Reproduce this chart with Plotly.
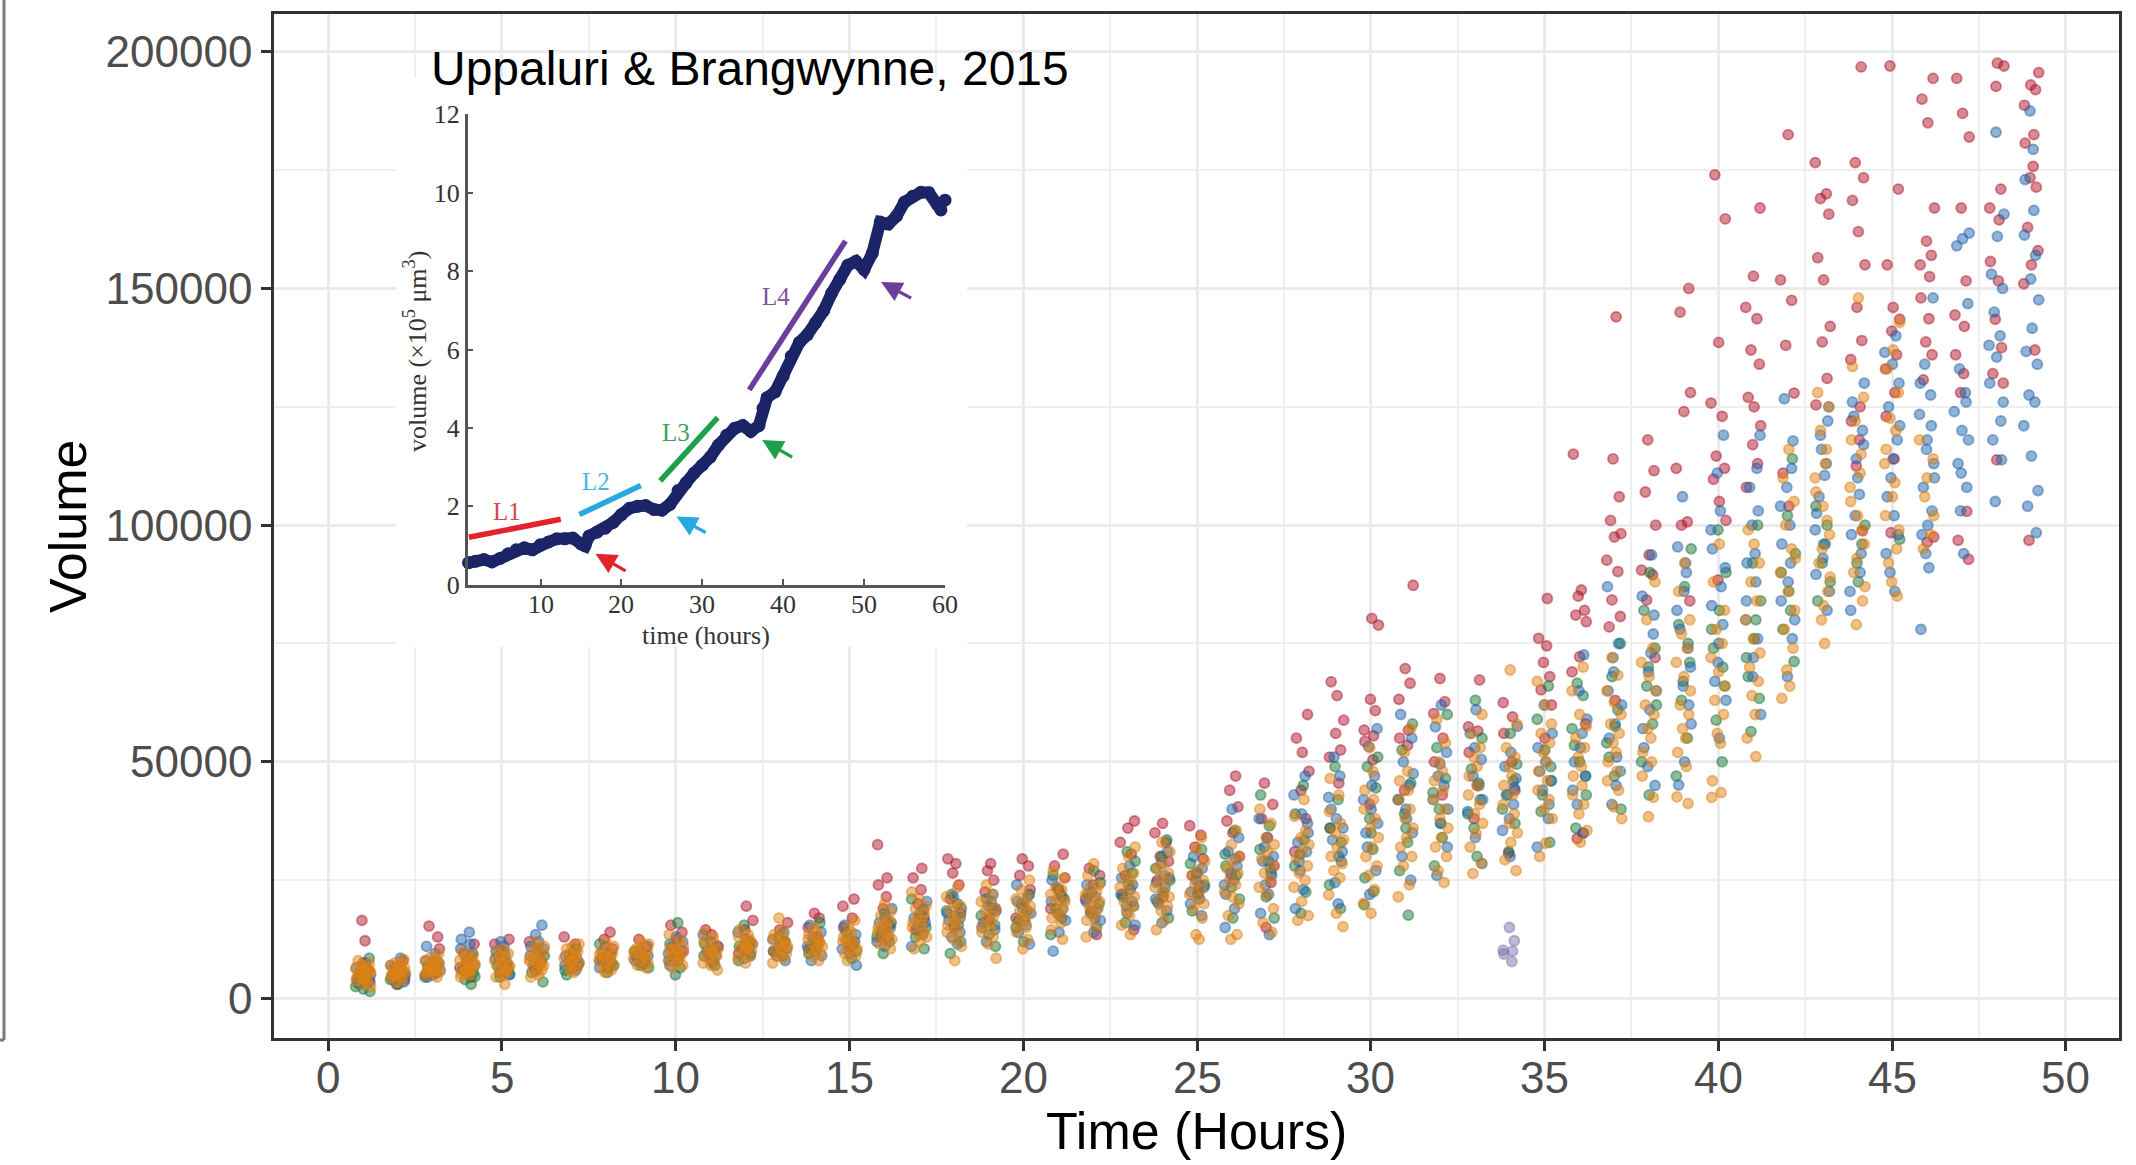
import plotly.graph_objects as go

# ---------------- data (main scatter, volumes in thousands) ----------------
RED = {
 1: [12.2, 16.5, 6.0, 4.5, 3.5, 7.5], 2: [3.0, 8.0, 6.5, 4.0], 3: [13.0, 15.3, 10.5, 7.0, 5.0],
 4: [9.5, 11.5, 8.0, 6.5, 4.5], 5: [12.5, 10.0, 11.5, 7.0, 5.5], 6: [10.5, 12.0, 8.0, 6.0],
 7: [13.0, 11.5, 9.0, 7.0], 8: [14.0, 12.5, 10.5, 8.5, 6.5], 9: [12.5, 11.0, 9.0, 7.5],
 10: [14.0, 15.5, 12.5, 10.0, 8.0], 11: [14.5, 13.5, 11.0, 9.0], 12: [19.5, 16.5, 14.5, 12.0, 9.5],
 13: [16.0, 14.5, 12.0, 10.0], 14: [18.0, 17.0, 15.0, 13.0, 10.5], 15: [21.0, 19.5, 17.0, 15.0, 11.0],
 16: [32.5, 25.5, 24.0, 21.5, 19.0, 15.5, 13.0], 17: [27.5, 25.5, 23.0, 20.0, 17.0, 14.5],
 18: [29.5, 28.5, 26.5, 24.0, 21.0, 18.0, 15.0], 19: [28.5, 27.0, 25.0, 22.5, 19.0, 16.5],
 20: [29.5, 28.0, 26.0, 23.0, 20.0, 17.0], 21: [30.5, 28.0, 25.5, 23.0, 19.0, 21.5],
 22: [27.5, 26.0, 24.0, 21.0, 13.5, 18.5], 23: [37.5, 36.0, 33.0, 30.5, 26.0, 14.5, 22.0],
 24: [37.0, 35.0, 33.0, 30.0, 29.0, 25.0, 21.5], 25: [36.5, 34.5, 32.0, 29.5, 26.0, 22.5],
 26: [47.0, 44.0, 40.5, 37.5, 35.0, 30.0, 26.0], 27: [45.5, 41.0, 38.0, 34.0, 28.0, 15.0, 24.5],
 28: [60.0, 55.0, 52.0, 48.0, 44.0, 38.0, 31.0], 29: [66.9, 64.0, 58.8, 56.0, 52.5, 51.0, 45.5, 36.0],
 30: [80.3, 78.9, 63.2, 60.8, 56.7, 55.5, 54.3, 50.4, 41.0],
 31: [87.3, 69.7, 66.6, 63.2, 56.7, 55.0, 53.5, 44.0],
 32: [67.6, 62.7, 60.2, 55.0, 50.0, 43.0], 33: [67.3, 57.4, 56.5, 52.0, 45.0, 38.0],
 34: [62.5, 59.5, 56.0, 50.0, 30.7, 44.0], 35: [84.5, 76.1, 74.5, 71.0, 68.0, 65.2, 62.0, 55.0],
 36: [115.0, 86.3, 85.0, 82.0, 81.0, 79.6, 72.2, 69.0, 34.9, 33.8, 58.0],
 37: [144.0, 114.0, 106.0, 101.0, 98.2, 97.5, 92.6, 90.2, 84.2, 80.7, 78.5, 63.0],
 38: [118.0, 111.5, 107.0, 100.0, 93.7, 90.5, 89.5, 84.2, 72.0],
 39: [150.0, 145.0, 128.0, 124.0, 112.0, 100.7, 100.0, 84.0],
 40: [174.0, 164.7, 138.6, 125.8, 123.0, 114.6, 112.0, 109.7, 105.0, 101.0, 88.4],
 41: [167.0, 152.6, 146.0, 143.6, 137.0, 134.0, 127.0, 125.0, 121.0, 117.0, 113.0, 108.0],
 42: [182.5, 151.8, 147.5, 138.0, 127.9, 111.0, 104.0],
 43: [176.6, 170.0, 169.0, 165.7, 156.5, 151.8, 142.0, 138.7, 131.0, 125.4],
 44: [196.8, 176.6, 173.4, 168.6, 162.0, 155.0, 146.0, 139.0, 135.0, 125.0, 122.0, 118.0, 112.5, 98.8],
 45: [197.0, 171.0, 155.0, 146.0, 143.5, 141.0, 136.0, 133.0, 128.0, 123.0, 114.0, 98.4],
 46: [194.4, 190.0, 185.0, 167.0, 160.0, 157.0, 155.0, 152.5, 148.0, 143.6, 138.7, 136.0, 130.7, 97.5, 96.4],
 47: [194.4, 187.0, 182.0, 167.0, 151.6, 144.4, 142.0, 136.0, 132.0, 128.0, 102.9, 96.8, 92.8],
 48: [197.6, 197.0, 192.7, 171.0, 167.0, 164.5, 155.7, 151.6, 143.5, 137.5, 132.0, 130.0, 113.8],
 49: [195.6, 193.0, 192.0, 188.7, 182.5, 180.7, 175.8, 173.4, 171.4, 162.9, 158.0, 155.0, 151.0, 137.0, 96.8],
}
BLUE = {
 1: [3.0, 3.8, 4.0, 4.5, 5.0, 5.5, 6.0, 6.5, 7.5, 4.2, 5.2], 2: [3.5, 4.0, 4.5, 5.0, 5.5, 6.0, 7.0, 8.5, 4.8, 6.5],
 3: [4.5, 5.0, 6.0, 6.5, 7.0, 8.0, 9.5, 11.0, 5.5, 7.5], 4: [5.5, 7.0, 8.0, 9.0, 10.5, 11.5, 12.5, 14.0, 6.5, 9.5],
 5: [5.0, 6.0, 7.0, 8.5, 9.5, 10.0, 11.0, 12.0, 7.5, 9.0], 6: [6.0, 8.0, 9.0, 10.0, 11.0, 12.0, 13.5, 15.5, 7.0, 10.5],
 7: [6.0, 7.0, 8.0, 9.0, 10.0, 7.5, 8.5], 8: [6.5, 7.0, 8.0, 9.0, 11.0, 7.5, 10.0],
 9: [7.5, 8.0, 9.5, 10.0, 11.0, 8.5, 9.0], 10: [7.0, 8.0, 9.0, 10.0, 11.0, 12.0, 13.0, 9.5],
 11: [7.5, 8.5, 9.0, 10.0, 11.0, 12.0, 13.5, 10.5], 12: [8.5, 9.5, 10.5, 11.5, 12.5, 14.0, 11.0],
 13: [8.0, 9.0, 10.5, 11.5, 12.5, 14.0, 10.0], 14: [8.0, 9.0, 10.0, 11.0, 12.0, 13.0, 14.0, 15.5, 12.5],
 15: [7.0, 9.5, 10.5, 11.5, 12.5, 13.5, 15.5, 11.0], 16: [11.0, 12.0, 13.0, 14.0, 15.0, 16.0, 17.0, 19.0, 14.5],
 17: [11.0, 13.5, 15.0, 16.0, 17.0, 18.0, 20.5, 14.5, 19.0], 18: [11.5, 13.0, 14.0, 16.5, 17.5, 19.0, 21.5, 15.5, 18.0],
 19: [12.0, 14.5, 16.0, 17.0, 18.5, 19.5, 22.0, 15.0, 20.5], 20: [11.5, 14.0, 16.5, 18.0, 19.0, 21.5, 24.0, 15.5, 20.5],
 21: [10.0, 14.0, 16.5, 18.0, 19.0, 20.5, 22.0, 25.0, 17.5, 23.5],
 22: [14.0, 16.5, 18.0, 19.0, 20.5, 21.5, 24.0, 17.0, 22.5],
 23: [15.5, 18.0, 20.5, 22.0, 23.0, 25.5, 28.0, 19.5, 24.0],
 24: [16.0, 18.5, 21.0, 23.5, 24.5, 26.0, 28.5, 31.0, 20.0, 25.5],
 25: [17.5, 20.0, 21.0, 22.5, 24.0, 25.0, 27.5, 30.0, 23.5, 26.5],
 26: [15.0, 19.0, 22.0, 25.0, 26.5, 28.0, 31.0, 34.0, 40.0, 24.0, 29.5],
 27: [13.5, 18.0, 22.0, 24.0, 26.0, 29.0, 30.0, 34.0, 38.0, 27.5, 32.0],
 28: [19.0, 23.0, 27.0, 31.0, 33.0, 35.0, 39.0, 43.0, 47.0, 29.0, 37.0],
 29: [20.0, 24.5, 29.0, 33.5, 36.0, 38.0, 42.5, 47.0, 51.0, 31.0, 40.0],
 30: [22.0, 27.0, 32.0, 37.0, 40.0, 42.0, 47.0, 53.2, 57.0, 35.0, 45.0],
 31: [25.0, 30.0, 35.0, 40.0, 42.0, 45.0, 50.0, 55.0, 60.0, 38.0, 47.5],
 32: [26.0, 32.0, 37.0, 42.0, 45.0, 47.0, 52.0, 57.4, 62.0, 40.0, 49.5],
 33: [28.5, 34.0, 39.5, 45.0, 47.0, 50.5, 56.0, 61.0, 42.0, 53.0],
 34: [30.0, 35.5, 41.0, 43.0, 46.5, 49.0, 52.0, 57.5, 38.0, 44.5],
 35: [32.0, 38.0, 44.0, 46.0, 48.0, 50.0, 56.0, 62.0, 41.0, 53.0],
 36: [35.0, 41.0, 47.0, 50.0, 53.0, 59.0, 65.0, 72.6, 44.0, 56.0],
 37: [41.0, 48.0, 55.0, 58.0, 62.0, 69.0, 75.0, 87.0, 51.0, 65.0, 45.0, 72.0],
 38: [45.0, 53.0, 61.0, 65.0, 69.0, 77.0, 85.0, 93.7, 57.0, 73.0, 49.0, 81.0],
 39: [45.1, 50.0, 58.0, 66.0, 74.0, 82.0, 90.0, 95.4, 92.0, 106.0, 62.0, 78.0, 70.0, 86.0],
 40: [55.0, 63.0, 71.0, 79.0, 83.0, 87.0, 95.0, 103.0, 111.0, 119.0, 67.0, 91.0, 75.0, 99.0],
 41: [60.0, 68.0, 76.0, 84.0, 88.0, 92.0, 94.0, 100.0, 103.0, 108.0, 119.0, 72.0, 80.0, 112.0],
 42: [68.0, 76.0, 84.0, 92.0, 96.0, 100.0, 108.0, 117.8, 126.7, 80.0, 88.0, 104.0, 112.0],
 43: [82.0, 89.6, 96.0, 102.5, 110.5, 116.0, 122.0, 106.0, 86.0, 93.0, 99.0, 113.0, 119.0, 125.0],
 44: [82.0, 90.0, 98.0, 106.5, 114.0, 120.0, 123.0, 130.0, 110.0, 86.0, 94.0, 102.0, 117.0, 126.0],
 45: [86.0, 94.0, 102.0, 110.0, 118.0, 125.0, 130.0, 134.0, 136.5, 140.0, 90.0, 98.0, 106.0, 114.0, 121.0],
 46: [78.0, 91.0, 94.0, 103.0, 108.0, 113.0, 118.0, 123.4, 127.5, 134.0, 148.0, 98.0, 100.0, 110.0,
      116.0, 121.0, 130.0],
 47: [94.0, 103.0, 108.0, 113.0, 118.0, 120.0, 124.0, 128.0, 133.0, 146.8, 159.0, 160.5, 161.7, 111.0, 126.0],
 48: [105.0, 113.8, 118.0, 126.0, 135.5, 138.0, 140.0, 145.0, 150.0, 153.0, 161.0, 165.7, 183.0, 122.0, 130.0],
 49: [98.4, 104.0, 107.3, 114.6, 121.0, 126.0, 127.5, 134.0, 136.7, 141.6, 147.6, 152.0, 157.0,
      161.3, 166.5, 173.0, 179.4, 187.5],
}
GREEN = {
 1: [1.5, 2.0, 2.5, 4.0, 6.0, 8.5, 3.2], 2: [3.0, 4.0, 5.5, 6.5, 4.8], 3: [4.5, 5.5, 6.0, 7.5, 6.8],
 4: [3.0, 4.0, 5.5, 6.0, 7.5, 4.6], 5: [4.5, 6.0, 7.0, 8.0, 5.2], 6: [3.5, 5.5, 7.0, 9.0, 6.2],
 7: [5.0, 6.5, 7.5, 8.5, 10.5, 6.0], 8: [5.5, 7.0, 8.0, 9.5, 11.5, 6.5], 9: [6.5, 7.0, 8.0, 10.0, 9.0],
 10: [5.0, 6.5, 8.0, 9.0, 11.5, 16.0, 10.0], 11: [7.0, 9.0, 10.0, 11.5, 8.0],
 12: [8.0, 10.0, 11.0, 12.0, 15.5, 9.0], 13: [9.0, 10.0, 11.0, 13.0, 12.0], 14: [9.5, 11.0, 12.5, 16.0, 10.5],
 15: [8.5, 11.0, 12.0, 14.0, 10.0], 16: [9.5, 12.0, 14.0, 16.0, 18.0, 13.0],
 17: [10.5, 13.0, 15.0, 17.0, 21.0, 18.5], 18: [9.5, 12.0, 15.5, 18.5, 20.0, 22.0, 17.0],
 19: [11.0, 13.5, 17.5, 19.0, 21.0, 15.5], 20: [12.0, 15.0, 18.5, 20.0, 22.0, 16.5],
 21: [13.5, 17.0, 19.0, 21.0, 26.0, 23.0], 22: [15.0, 18.0, 20.0, 22.0, 27.0, 24.5],
 23: [16.0, 19.5, 21.5, 24.0, 29.0, 31.0, 26.5], 24: [17.0, 20.5, 22.5, 25.0, 30.0, 33.5, 27.5],
 25: [18.5, 22.0, 24.0, 26.5, 31.5, 28.5], 26: [17.0, 21.0, 23.5, 26.0, 30.5, 35.5, 28.0],
 27: [17.0, 21.5, 26.5, 31.5, 36.5, 43.0, 29.0], 28: [18.0, 22.5, 28.0, 33.5, 39.0, 45.0, 30.5],
 29: [19.0, 24.0, 30.0, 36.0, 42.0, 49.0, 33.0], 30: [19.8, 22.6, 25.5, 31.5, 38.0, 44.5, 49.0, 51.0, 35.0],
 31: [17.6, 27.0, 33.0, 39.0, 45.5, 52.5, 58.0, 36.0, 42.0], 32: [28.0, 34.0, 40.0, 46.5, 53.0, 60.0, 37.0, 43.5],
 33: [30.0, 36.0, 42.0, 48.5, 55.0, 63.0, 39.0, 45.5], 34: [31.0, 37.0, 43.0, 49.5, 56.0, 40.0, 46.0],
 35: [33.0, 39.5, 46.0, 52.5, 59.0, 66.0, 43.0, 49.0], 36: [36.0, 43.0, 50.0, 57.0, 64.0, 66.6, 47.0, 53.5],
 37: [40.0, 47.0, 54.0, 61.0, 68.0, 75.0, 51.0, 57.5], 38: [43.0, 50.0, 58.0, 66.0, 74.0, 82.0, 90.0, 62.0, 70.0],
 39: [47.0, 55.0, 63.0, 71.0, 79.0, 87.0, 95.0, 67.0, 75.0], 40: [50.0, 58.8, 66.0, 74.0, 82.0, 90.0, 99.0, 70.0, 78.0],
 41: [56.4, 63.4, 68.0, 76.0, 84.0, 92.0, 100.0, 72.0, 80.0], 42: [71.2, 78.0, 86.0, 94.0, 102.0, 114.0, 90.0, 82.0],
 43: [84.0, 96.0, 88.0, 92.0, 100.0, 104.0], 44: [88.0, 100.0, 92.0, 96.0], 45: [97.0],
}
ORANGE = {
 1: [2.5, 3.0, 3.5, 3.8, 4.2, 4.5, 4.8, 5.0, 5.3, 5.6, 5.8, 6.1, 6.3, 6.6, 7.0, 7.4, 8.0, 4.0, 5.5, 6.0],
 2: [3.5, 3.9, 4.3, 4.6, 5.0, 5.2, 5.5, 5.8, 6.1, 6.4, 6.7, 7.0, 7.3, 7.6, 8.2, 4.8, 6.0, 5.4],
 3: [4.5, 4.9, 5.2, 5.5, 5.9, 6.2, 6.6, 6.9, 7.3, 7.6, 8.0, 8.4, 8.7, 9.5, 6.0, 7.0, 5.7],
 4: [4.5, 5.0, 5.3, 5.7, 6.1, 6.5, 6.9, 7.2, 7.7, 8.1, 8.5, 8.9, 9.3, 10.0, 6.3, 7.4, 5.5],
 5: [3.0, 4.5, 5.0, 5.5, 6.0, 6.5, 7.0, 7.5, 8.0, 8.5, 9.0, 9.5, 10.0, 10.5, 6.8, 7.8, 5.8],
 6: [4.5, 5.0, 5.6, 6.0, 6.5, 7.0, 7.5, 8.0, 8.5, 9.0, 9.5, 10.0, 10.6, 11.0, 12.0, 7.3, 8.3],
 7: [5.5, 6.0, 6.5, 7.0, 7.5, 8.0, 8.5, 9.0, 9.5, 10.0, 10.5, 11.0, 11.5, 7.8, 8.8],
 8: [5.5, 6.0, 6.5, 7.0, 7.5, 8.0, 8.5, 9.0, 9.5, 10.0, 10.5, 11.0, 12.0, 8.3, 9.3],
 9: [6.5, 7.0, 7.5, 8.0, 8.5, 9.0, 9.5, 10.0, 10.5, 11.0, 11.5, 12.0, 8.7, 9.8],
 10: [6.5, 7.0, 7.5, 8.0, 8.5, 9.0, 9.5, 10.0, 10.5, 11.0, 11.5, 12.5, 13.5, 9.2, 10.3],
 11: [6.0, 7.0, 7.5, 8.0, 8.5, 9.0, 9.5, 10.0, 10.5, 11.0, 11.5, 12.0, 13.0, 14.0, 9.7],
 12: [7.5, 8.5, 9.0, 9.5, 10.0, 10.5, 11.0, 11.5, 12.0, 12.5, 13.0, 13.5, 14.5, 10.7, 11.3],
 13: [7.5, 8.5, 9.0, 9.5, 10.0, 10.5, 11.0, 11.5, 12.0, 12.5, 13.0, 13.5, 14.5, 17.0, 11.2],
 14: [8.0, 9.0, 9.5, 10.0, 10.5, 11.0, 11.5, 12.0, 12.5, 13.0, 13.5, 14.0, 15.0, 11.7],
 15: [8.0, 9.0, 9.5, 10.0, 10.5, 11.0, 11.5, 12.0, 12.5, 13.0, 14.0, 15.0, 16.5, 12.2],
 16: [10.5, 11.5, 12.0, 12.5, 13.0, 13.5, 14.0, 14.5, 15.0, 15.5, 16.0, 16.5, 17.5, 18.5, 20.0],
 17: [10.5, 12.0, 13.0, 13.5, 14.0, 15.0, 15.5, 16.0, 16.5, 17.5, 18.0, 19.0, 19.5, 21.0, 22.5],
 18: [8.0, 11.0, 12.5, 13.5, 14.0, 15.0, 15.5, 16.0, 17.0, 17.5, 18.5, 19.5, 20.0, 21.5, 23.5],
 19: [8.5, 11.5, 13.0, 14.0, 14.5, 15.5, 16.0, 17.0, 17.5, 18.5, 19.0, 20.0, 20.5, 22.0, 24.0],
 20: [10.5, 12.5, 14.0, 15.0, 15.5, 16.5, 17.0, 18.0, 18.5, 19.5, 20.0, 21.0, 21.5, 23.0, 25.0],
 21: [12.5, 14.5, 16.0, 17.0, 17.5, 18.5, 19.0, 20.0, 20.5, 21.5, 22.0, 23.0, 23.5, 25.5, 27.0],
 22: [13.0, 15.0, 16.5, 17.5, 18.0, 19.0, 19.5, 20.5, 21.0, 22.0, 22.5, 23.5, 24.0, 26.0, 28.5],
 23: [13.5, 15.5, 17.5, 18.5, 19.5, 20.5, 21.5, 22.5, 23.5, 24.5, 25.5, 26.5, 27.5, 30.0, 32.0],
 24: [14.5, 16.5, 18.5, 19.5, 20.5, 21.5, 22.5, 23.5, 24.5, 25.5, 26.5, 27.5, 28.5, 31.0, 33.0],
 25: [12.5, 13.5, 17.0, 19.0, 20.0, 21.0, 22.0, 23.0, 24.0, 25.0, 26.0, 27.0, 29.0, 31.5, 34.0],
 26: [12.5, 13.5, 17.5, 20.0, 21.5, 22.5, 24.0, 25.0, 26.5, 27.5, 29.0, 30.0, 32.5, 35.5],
 27: [14.0, 16.0, 19.0, 22.0, 23.5, 25.0, 26.5, 28.0, 29.5, 31.0, 32.5, 34.0, 37.0, 40.0],
 28: [16.5, 17.5, 20.5, 23.5, 25.0, 26.5, 28.0, 29.5, 31.0, 32.5, 34.0, 35.5, 38.5, 42.0],
 29: [15.2, 18.0, 21.9, 25.5, 27.0, 28.5, 30.0, 32.0, 33.5, 35.0, 37.0, 39.5, 43.0, 46.5],
 30: [18.0, 20.1, 23.0, 26.0, 28.0, 30.0, 32.0, 34.0, 36.0, 38.0, 40.0, 42.0, 44.0, 48.0, 53.0],
 31: [21.5, 24.0, 28.0, 30.0, 32.0, 34.0, 36.0, 38.0, 40.0, 42.0, 44.0, 46.0, 48.0, 52.0, 57.0],
 32: [24.5, 27.0, 30.0, 32.0, 34.0, 36.0, 38.0, 40.0, 42.0, 44.0, 46.0, 48.0, 50.0, 54.0, 59.0],
 33: [26.4, 28.6, 32.0, 34.9, 37.0, 39.0, 41.0, 43.0, 45.0, 47.0, 49.0, 51.0, 53.0, 56.0, 60.0],
 34: [27.0, 29.3, 33.0, 35.0, 37.0, 39.0, 41.0, 43.0, 45.0, 47.0, 49.0, 51.0, 53.0, 58.0, 69.4],
 35: [30.0, 32.8, 38.0, 40.0, 42.0, 44.0, 46.0, 48.0, 50.0, 52.0, 54.0, 56.0, 58.0, 62.0, 67.0],
 36: [33.0, 35.5, 39.0, 41.0, 43.0, 45.0, 47.0, 49.0, 51.0, 53.0, 55.0, 57.5, 60.0, 65.0, 70.0],
 37: [38.0, 40.5, 44.0, 46.0, 48.0, 50.0, 52.0, 54.0, 56.0, 58.0, 60.0, 62.5, 65.0, 68.3, 72.0],
 38: [38.4, 42.5, 47.0, 50.0, 52.0, 55.0, 57.0, 60.0, 62.0, 65.0, 68.0, 71.0, 74.0, 80.0, 88.0],
 39: [41.2, 42.6, 49.0, 52.0, 55.0, 57.0, 60.0, 62.0, 65.0, 68.0, 71.0, 74.0, 77.0, 80.0, 86.0, 92.0],
 40: [42.5, 43.5, 46.0, 53.9, 56.0, 60.0, 63.0, 66.0, 69.0, 72.0, 75.0, 78.0, 82.0, 88.0, 96.0],
 41: [51.1, 55.0, 60.0, 64.0, 67.0, 70.0, 73.0, 76.0, 80.0, 84.0, 88.0, 92.0, 99.0, 96.0],
 42: [63.4, 66.0, 69.4, 74.0, 78.0, 82.0, 86.0, 90.0, 95.0, 100.0, 105.0, 110.0, 116.0, 93.0],
 43: [75.0, 80.0, 86.0, 92.0, 98.0, 104.0, 110.0, 116.0, 120.0, 125.0, 128.0, 83.0, 89.0, 95.0,
      101.0, 107.0, 113.0],
 44: [79.0, 84.0, 90.0, 96.0, 102.0, 108.0, 115.0, 122.0, 127.0, 133.5, 148.0, 87.0, 93.0, 99.0,
      105.0, 111.0, 118.0],
 45: [85.0, 92.0, 99.0, 106.0, 113.0, 120.0, 122.6, 128.0, 133.0, 137.0, 142.8, 88.0, 95.0, 102.0,
      109.0, 116.0],
 46: [95.0, 102.0, 110.0, 118.0, 98.0, 106.0, 114.0],
}
PURPLE = {34: [15.0, 12.2, 10.2, 10.0, 9.4, 7.8]}

X_TICKS = [0, 5, 10, 15, 20, 25, 30, 35, 40, 45, 50]
Y_TICKS = [0, 50000, 100000, 150000, 200000]

GROUPS = [("red", RED), ("green", GREEN), ("blue", BLUE), ("orange", ORANGE), ("purple", PURPLE)]
COLORS = {"red": (178, 24, 43), "blue": (33, 102, 172), "green": (27, 120, 55),
          "orange": (224, 130, 20), "purple": (128, 115, 172)}
JITTER = [-0.17, 0.06, -0.03, 0.15, -0.10, 0.20, 0.01, -0.21, 0.11, -0.06,
          0.18, -0.14, 0.03, 0.22, -0.01, 0.13, -0.19, 0.08]

# ---------------- data (inset, Uppaluri & Brangwynne 2015) ----------------
INSET_T = [1.1, 2, 3, 4, 5, 6, 7, 8, 9, 10, 11, 12, 13, 14, 15, 15.5, 16, 17, 18, 19, 20, 21, 22,
           23, 24, 25, 26, 27, 28, 29, 30, 31, 32, 33, 34, 35, 36, 37, 37.5, 38, 39, 40, 41, 42, 43,
           44, 45, 46, 47, 48, 49, 50, 51, 52, 53, 54, 55, 56, 57, 58, 59, 59.5, 60]
INSET_V = [0.56, 0.6, 0.64, 0.58, 0.67, 0.79, 0.89, 0.94, 0.89, 1.02, 1.09, 1.17, 1.17, 1.19, 1.04,
           0.99, 1.24, 1.34, 1.44, 1.59, 1.79, 1.95, 2.0, 2.02, 1.92, 1.9, 2.05, 2.4, 2.6, 2.85, 3.05,
           3.26, 3.56, 3.81, 3.99, 4.06, 3.91, 4.06, 4.5, 4.77, 4.92, 5.32, 5.83, 6.18, 6.38, 6.68,
           6.99, 7.44, 7.79, 8.15, 8.25, 8.04, 8.45, 9.25, 9.2, 9.4, 9.76, 9.91, 10.01, 10.0, 9.71,
           9.56, 9.81]
INSET_X_TICKS = [10, 20, 30, 40, 50, 60]
INSET_Y_TICKS = [0, 2, 4, 6, 8, 10, 12]
SEG_NAMES = ["L1", "L2", "L3", "L4"]
SEG_T = [(1.15, 12.5), (14.8, 22.4), (24.8, 31.9), (35.8, 47.7)]
SEG_V = [(1.21, 1.67), (1.79, 2.53), (2.65, 4.26), (4.97, 8.77)]
SEG_COLORS = ["#E3232B", "#29A8E0", "#1E9F4A", "#6A3E9C"]
LABEL_COLORS = ["#D8454A", "#52B3E0", "#3DA062", "#7B539F"]
LABEL_T = [5.9, 16.9, 26.8, 39.1]
LABEL_V = [1.86, 2.62, 3.88, 7.36]
ARROW_HEAD_T = [16.8, 26.8, 37.4, 52.1]
ARROW_HEAD_V = [0.79, 1.74, 3.69, 7.72]
ARROW_TAIL_T = [20.7, 30.6, 41.3, 56.0]
ARROW_TAIL_V = [0.33, 1.31, 3.23, 7.29]

# ---------------- layout geometry ----------------
W, H = 2136, 1165
ML, MR, MT, MB = 274, 17, 14, 127
PW = W - ML - MR
PH = H - MT - MB


def px_x(p):
    return (p - ML) / PW


def px_y(p):
    return (H - MB - p) / PH


SANS = "Liberation Sans, Arial, Helvetica, sans-serif"
SERIF = "Liberation Serif, Times New Roman, serif"

fig = go.Figure()

# main scatter
for gi, (name, data) in enumerate(GROUPS):
    xs, ys = [], []
    for h, vals in data.items():
        for i, v in enumerate(vals):
            xs.append(h + JITTER[(i + 4 * gi + h) % len(JITTER)])
            ys.append(v * 1000)
    r, g, b = COLORS[name]
    fig.add_trace(go.Scatter(
        x=xs, y=ys, mode="markers", xaxis="x", yaxis="y", showlegend=False, hoverinfo="skip",
        marker=dict(size=10, color=f"rgba({r},{g},{b},0.5)",
                    line=dict(width=1.8, color=f"rgba({r},{g},{b},0.5)"))))

# white cover for inset (empty subplot, own background)
fig.add_trace(go.Scatter(x=[], y=[], xaxis="x2", yaxis="y2", showlegend=False, hoverinfo="skip"))

# inset curve
fig.add_trace(go.Scatter(
    x=INSET_T, y=INSET_V, mode="lines+markers", xaxis="x3", yaxis="y3", showlegend=False,
    hoverinfo="skip", cliponaxis=False,
    line=dict(color="#1C2468", width=12), marker=dict(size=13, color="#1C2468")))
for k in range(4):
    fig.add_trace(go.Scatter(
        x=list(SEG_T[k]), y=list(SEG_V[k]), mode="lines", xaxis="x3", yaxis="y3",
        showlegend=False, hoverinfo="skip", line=dict(color=SEG_COLORS[k], width=5.5)))

annotations = [
    dict(text="Volume", x=px_x(68), y=px_y(527), xref="paper", yref="paper", showarrow=False,
         textangle=-90, font=dict(family=SANS, size=52, color="black"),
         xanchor="center", yanchor="middle"),
    dict(text="Time (Hours)", x=0.5, y=px_y(1131), xref="paper", yref="paper", showarrow=False,
         font=dict(family=SANS, size=52, color="black"), xanchor="center", yanchor="middle"),
    dict(text="Uppaluri & Brangwynne, 2015", x=px_x(429), y=px_y(68), xref="paper", yref="paper",
         showarrow=False, font=dict(family=SANS, size=48, color="black"),
         xanchor="left", yanchor="middle"),
    dict(text="volume (×10<sup>5</sup> μm<sup>3</sup>)", x=px_x(415), y=px_y(352),
         xref="paper", yref="paper", showarrow=False, textangle=-90,
         font=dict(family=SERIF, size=26, color="#333333"), xanchor="center", yanchor="middle"),
    dict(text="time (hours)", x=px_x(706), y=px_y(635), xref="paper", yref="paper",
         showarrow=False, font=dict(family=SERIF, size=26, color="#333333"),
         xanchor="center", yanchor="middle"),
]
# main x tick labels (placed explicitly for exact spacing)
for t in X_TICKS:
    annotations.append(dict(text=str(t), x=t, xref="x", y=px_y(1077), yref="paper",
                            showarrow=False, xanchor="center", yanchor="middle",
                            font=dict(family=SANS, size=44, color="#4D4D4D")))
# inset x tick labels
for t in INSET_X_TICKS:
    annotations.append(dict(text=str(t), x=t, xref="x3", y=px_y(604), yref="paper",
                            showarrow=False, xanchor="center", yanchor="middle",
                            font=dict(family=SERIF, size=26, color="#333333")))
for k in range(4):
    annotations.append(dict(text=SEG_NAMES[k], x=LABEL_T[k], y=LABEL_V[k], xref="x3", yref="y3",
                            showarrow=False, font=dict(family=SERIF, size=25, color=LABEL_COLORS[k]),
                            xanchor="center", yanchor="middle"))
    annotations.append(dict(text="", x=ARROW_HEAD_T[k], y=ARROW_HEAD_V[k], xref="x3", yref="y3",
                            ax=ARROW_TAIL_T[k], ay=ARROW_TAIL_V[k], axref="x3", ayref="y3",
                            showarrow=True, arrowhead=2, arrowsize=1.3, arrowwidth=3.2,
                            arrowcolor=SEG_COLORS[k]))

shapes = [
    dict(type="line", xref="paper", yref="paper", x0=px_x(4), x1=px_x(4), y0=px_y(0), y1=px_y(1040),
         line=dict(color="#7a7a7a", width=3)),
    dict(type="line", xref="paper", yref="paper", x0=px_x(0), x1=px_x(4), y0=px_y(1040), y1=px_y(1040),
         line=dict(color="#7a7a7a", width=3)),
]

fig.update_layout(
    width=W, height=H, margin=dict(l=ML, r=MR, t=MT, b=MB, pad=0),
    paper_bgcolor="white", plot_bgcolor="white", showlegend=False, hovermode=False,
    font=dict(family=SANS),
    annotations=annotations, shapes=shapes,
    xaxis=dict(range=[-1.56, 51.53], tickmode="array", tickvals=X_TICKS, showticklabels=False,
               ticks="outside", ticklen=10, tickwidth=2.5, tickcolor="#333333",
               showline=True, mirror=True, linecolor="#333333", linewidth=2.5,
               showgrid=True, gridcolor="#EBEBEB", gridwidth=3.2, zeroline=False,
               minor=dict(dtick=2.5, tick0=0, showgrid=True, gridcolor="#EFEFEF", gridwidth=1.8),
               automargin=False, domain=[0, 1], anchor="y"),
    yaxis=dict(range=[-8344, 207985], tickmode="array", tickvals=Y_TICKS,
               tickformat="d", ticks="outside", ticklen=10, tickwidth=2.5, tickcolor="#333333",
               showline=True, mirror=True, linecolor="#333333", linewidth=2.5,
               showgrid=True, gridcolor="#EBEBEB", gridwidth=3.2, zeroline=False,
               minor=dict(dtick=25000, tick0=0, showgrid=True, gridcolor="#EFEFEF", gridwidth=1.8),
               tickfont=dict(family=SANS, size=44, color="#4D4D4D"), automargin=False,
               domain=[0, 1], anchor="x"),
    xaxis2=dict(domain=[px_x(396), px_x(967)], range=[0, 1], visible=False, anchor="y2",
                fixedrange=True),
    yaxis2=dict(domain=[px_y(647), px_y(78)], range=[0, 1], visible=False, anchor="x2",
                fixedrange=True),
    xaxis3=dict(domain=[px_x(467.7), px_x(945)], range=[1, 60], tickmode="array",
                tickvals=INSET_X_TICKS, showticklabels=False, ticks="inside", ticklen=6, tickwidth=2,
                tickcolor="#555555", showline=True, linecolor="#555555", linewidth=2.5,
                showgrid=False, zeroline=False, anchor="y3", automargin=False),
    yaxis3=dict(domain=[px_y(584.7), px_y(114.3)], range=[0, 12], tickmode="array",
                tickvals=INSET_Y_TICKS, ticks="inside", ticklen=6, tickwidth=2,
                tickcolor="#555555", showline=True, linecolor="#555555", linewidth=2.5,
                showgrid=False, zeroline=False, anchor="x3", automargin=False,
                tickfont=dict(family=SERIF, size=26, color="#333333")),
)

fig.write_html("out.html")
